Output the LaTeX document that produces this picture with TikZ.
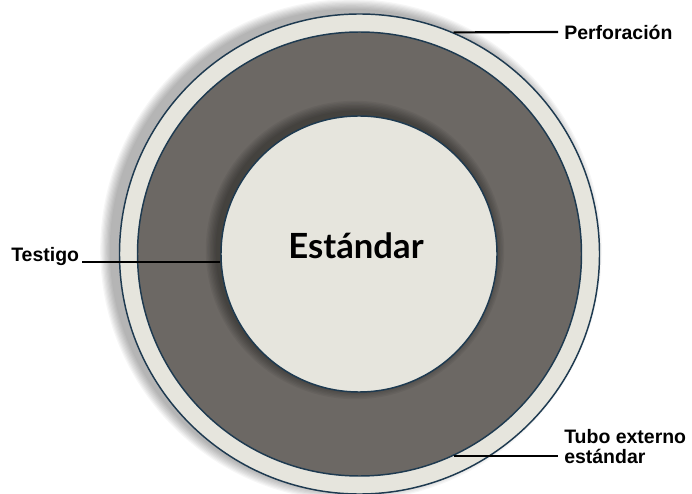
\documentclass[tikz,border=0pt]{standalone}
\usepackage{fontspec}
\setmainfont{Liberation Sans}
\newfontfamily\latofont{Lato}
\usepackage{xcolor}
\usepackage{tikz}
\usetikzlibrary{positioning}
\definecolor{lite}{HTML}{E6E5DD}
\definecolor{core}{HTML}{6C6864}
\definecolor{rim}{HTML}{1E3A50}

\begin{document}
\begin{tikzpicture}[x=0.75pt, y=0.75pt,
			every node/.style={font=\bfseries\fontsize{14.6pt}{15pt}\selectfont},
			ring/.style={circle, draw=rim, line width=1.1pt, inner sep=0pt},
			lbl/.style={inner ysep=0pt, inner xsep=4.5pt},
			lead/.style={line width=1.6pt, black}]
			\useasboundingbox[fill=white] (0,0) rectangle (692,493);
			% sombra difusa del borde exterior
			\foreach \k in {1,...,9}
				\fill[black, opacity=0.035] (351,243) circle (240+1.2*\k);
			\node[ring, fill=lite, minimum size=360pt] (outer) at (359.5,239) {};
			\node[ring, fill=core, minimum size=333pt] (tube)  at (359.5,239) {};
			\foreach \k in {1,...,8}
				\fill[black, opacity=0.05] (355,243) circle (138+1.4*\k);
			\node[ring, fill=lite, minimum size=207pt] (core)  at (359,239) {};
			\node[font=\latofont\bfseries\fontsize{26pt}{28pt}\selectfont, anchor=base] (title) at (356,234) {Estándar};
			\node[lbl, anchor=west] (perf) at (558,461) {Perforación};
			\node[lbl, anchor=base east, inner xsep=2pt] (test) at (82,231) {Testigo};
			\node[lbl, anchor=base west, align=left] (tubo) at (558,30) {Tubo externo\\estándar};
			\draw[lead] (outer.67) -- (perf.west);
			\draw[lead] (test.base east) -- (test.base east -| core.west);
			\draw[lead] (tube.-65.5) -- (tube.-65.5 -| tubo.west);
		\end{tikzpicture}
\end{document}
